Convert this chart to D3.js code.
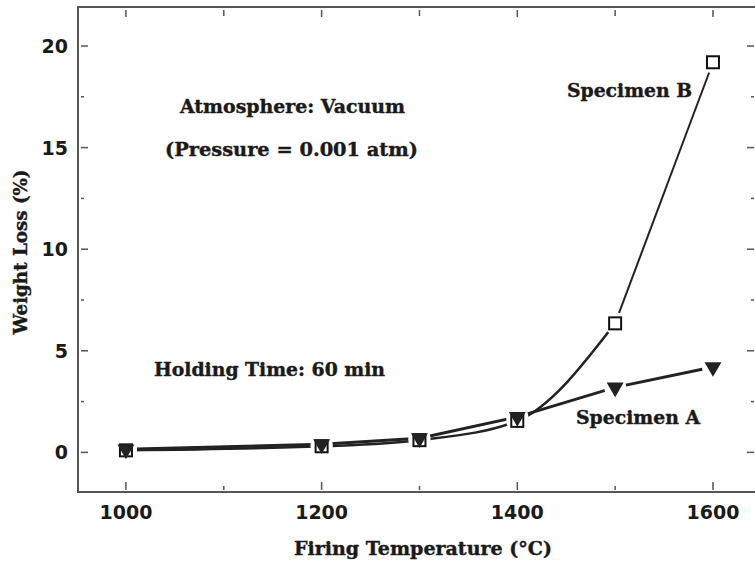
<!DOCTYPE html>
<html>
<head>
<meta charset="utf-8">
<script src="https://cdn.jsdelivr.net/npm/d3@7"></script>
<style>
  body { margin: 0; background: #fff; }
  text { font-family: "DejaVu Serif", serif; font-weight: bold; fill: #1a1a1a; }
  .num { font-family: "DejaVu Sans", sans-serif; }
</style>
</head>
<body>
<div class="container"></div>
<script>
// data
const temps = [1000, 1200, 1300, 1400, 1500, 1600]
const specimenA = [0.15, 0.4, 0.7, 1.75, 3.2, 4.2]
const specimenB = [0.1, 0.3, 0.6, 1.55, 6.35, 19.2]
const yMajor = [0, 5, 10, 15, 20]
const yMinor = [2.5, 7.5, 12.5, 17.5]
const xMajor = [1000, 1200, 1400, 1600]
const xMinor = [1100, 1300, 1500]

const svg = d3.select('.container').append('svg')
    .attr('width', 755).attr('height', 563)

const pLeft = 78, pRight = 757, pTop = 7, pBottom = 492

const x = d3.scaleLinear().domain([951, 1645]).range([pLeft, pRight])
const y = d3.scaleLinear().domain([-1.95, 21.92]).range([pBottom, pTop])

const axisColor = '#555'

// frame
svg.append('rect')
    .attr('x', pLeft).attr('y', pTop)
    .attr('width', pRight - pLeft).attr('height', pBottom - pTop)
    .attr('fill', 'none').attr('stroke', axisColor).attr('stroke-width', 2)

// ticks, pointing inward
const g = svg.append('g').attr('stroke', axisColor).attr('stroke-width', 1.5)
yMajor.forEach(v => {
    g.append('line').attr('x1', pLeft + 3).attr('x2', pLeft + 10).attr('y1', y(v)).attr('y2', y(v))
    g.append('line').attr('x1', pRight - 10).attr('x2', pRight - 3).attr('y1', y(v)).attr('y2', y(v))
})
yMinor.forEach(v => {
    g.append('line').attr('x1', pLeft + 3).attr('x2', pLeft + 6).attr('y1', y(v)).attr('y2', y(v))
    g.append('line').attr('x1', pRight - 6).attr('x2', pRight - 3).attr('y1', y(v)).attr('y2', y(v))
})
xMajor.forEach(v => {
    g.append('line').attr('x1', x(v)).attr('x2', x(v)).attr('y1', pBottom - 2).attr('y2', pBottom - 10)
    g.append('line').attr('x1', x(v)).attr('x2', x(v)).attr('y1', pTop + 3).attr('y2', pTop + 10)
})
xMinor.forEach(v => {
    g.append('line').attr('x1', x(v)).attr('x2', x(v)).attr('y1', pBottom - 2).attr('y2', pBottom - 6)
    g.append('line').attr('x1', x(v)).attr('x2', x(v)).attr('y1', pTop + 3).attr('y2', pTop + 9)
})

// tick labels
svg.selectAll('.ylab').data(yMajor).enter().append('text')
    .attr('class', 'num')
    .attr('x', 68).attr('y', d => y(d) + 7)
    .attr('text-anchor', 'end').style('font-size', '19px')
    .text(d => d)
svg.selectAll('.xlab').data(xMajor).enter().append('text')
    .attr('class', 'num')
    .attr('x', d => x(d)).attr('y', 519)
    .attr('text-anchor', 'middle').style('font-size', '19px')
    .text(d => d)

// axis titles
svg.append('text').attr('x', 423).attr('y', 555)
    .attr('text-anchor', 'middle').style('font-size', '18px')
    .attr('stroke', '#1a1a1a').attr('stroke-width', 0.4)
    .attr('textLength', 258).attr('lengthAdjust', 'spacingAndGlyphs')
    .text('Firing Temperature (°C)')
svg.append('text').attr('transform', 'translate(27,252) rotate(-90)')
    .attr('text-anchor', 'middle').style('font-size', '18px')
    .attr('stroke', '#1a1a1a').attr('stroke-width', 0.4)
    .attr('textLength', 165).attr('lengthAdjust', 'spacingAndGlyphs')
    .text('Weight Loss (%)')

// annotations
const notes = [
    {t: 'Atmosphere: Vacuum', x: 180, y: 113, w: 225},
    {t: '(Pressure = 0.001 atm)', x: 165, y: 156, w: 253},
    {t: 'Holding Time: 60 min', x: 154, y: 376, w: 231},
    {t: 'Specimen B', x: 567, y: 97, w: 125},
    {t: 'Specimen A', x: 576, y: 424, w: 124}
]
svg.selectAll('.note').data(notes).enter().append('text')
    .attr('x', d => d.x).attr('y', d => d.y)
    .style('font-size', '18px')
    .attr('stroke', '#1a1a1a').attr('stroke-width', 0.4)
    .attr('textLength', d => d.w).attr('lengthAdjust', 'spacingAndGlyphs')
    .text(d => d.t)

// lines
const ptsA = temps.map((t, i) => [t, specimenA[i]])
const ptsB = temps.map((t, i) => [t, specimenB[i]])
const straight = d3.line().x(d => x(d[0])).y(d => y(d[1]))
const curved = d3.line().x(d => x(d[0])).y(d => y(d[1])).curve(d3.curveMonotoneX)

svg.append('path').attr('d', curved(ptsB.slice(0, 5)))
    .attr('fill', 'none').attr('stroke', '#222').attr('stroke-width', 2.5)
svg.append('path').attr('d', straight(ptsB.slice(4)))
    .attr('fill', 'none').attr('stroke', '#222').attr('stroke-width', 2)
svg.append('path').attr('d', straight(ptsA))
    .attr('fill', 'none').attr('stroke', '#222').attr('stroke-width', 3)

// white gaps round markers
svg.selectAll('.gap').data(ptsA.concat(ptsB)).enter().append('circle')
    .attr('cx', d => x(d[0])).attr('cy', d => y(d[1])).attr('r', 11).attr('fill', '#fff')

// markers
svg.selectAll('.sq').data(ptsB).enter().append('rect')
    .attr('x', d => x(d[0]) - 6).attr('y', d => y(d[1]) - 6)
    .attr('width', 12).attr('height', 12)
    .attr('fill', '#fff').attr('stroke', '#111').attr('stroke-width', 2)
const tri = d3.symbol().type(d3.symbolTriangle).size(125)
svg.selectAll('.tri').data(ptsA).enter().append('path')
    .attr('d', tri)
    .attr('transform', d => `translate(${x(d[0])},${y(d[1])}) rotate(180)`)
    .attr('fill', '#222')
</script>
</body>
</html>
